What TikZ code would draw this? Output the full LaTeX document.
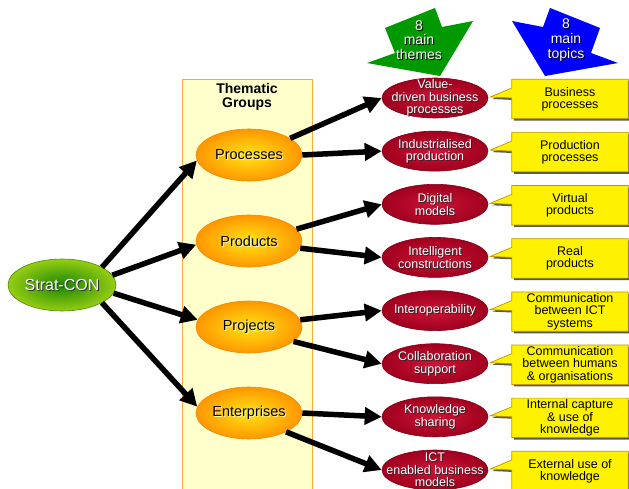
\documentclass[tikz,border=0pt]{standalone}
\usepackage{fontspec}
\setmainfont{Liberation Sans}
\usetikzlibrary{arrows.meta,calc,shapes.geometric}
\definecolor{panelfill}{RGB}{255,255,204}
\definecolor{paneldraw}{RGB}{250,170,60}
\definecolor{redin}{RGB}{205,20,55}
\definecolor{redout}{RGB}{160,0,30}
\definecolor{redline}{RGB}{130,0,25}
\definecolor{orin}{RGB}{255,228,20}
\definecolor{orout}{RGB}{255,150,0}
\definecolor{orline}{RGB}{235,140,0}
\definecolor{grin}{RGB}{25,135,0}
\definecolor{grout}{RGB}{150,205,20}
\definecolor{grline}{RGB}{70,140,0}
\definecolor{boxline}{RGB}{190,150,0}
\definecolor{arrgreen}{RGB}{0,153,0}
\definecolor{arrblue}{RGB}{0,0,255}
\newcommand\ellnode[6]{%
  \node[#1] (#2) at #3 {};
  \node[#4, text=#5] at ([shift={(1,1)}]#2.center) {#6};
  \node[#4] at (#2.center) {#6};
}
\newcommand\callout[4]{%
  \node[boxshape] (#1) at #2 {};
  \coordinate (#1-t) at ($(#3.east)+(2,-1)$);
  \coordinate (#1-a) at ($(#1.west)+(0,-11)$);
  \coordinate (#1-b) at ($(#1.west)+(0,-1)$);
  \fill[boxshadow] ([shift={(2,2)}]#1.south west) -- ([shift={(2,2)}]#1-b) -- ([shift={(2,2)}]#1-t) -- ([shift={(2,2)}]#1-a) -- ([shift={(2,2)}]#1.north west) -- ([shift={(2,2)}]#1.north east) -- ([shift={(2,2)}]#1.south east) -- cycle;
  \filldraw[boxfill] (#1.south west) -- (#1-b) -- (#1-t) -- (#1-a) -- (#1.north west) -- (#1.north east) -- (#1.south east) -- cycle;
  \node[boxtext] at (#1.center) {#4};
}
\begin{document}
\begin{tikzpicture}[x=1pt,y=-1pt,
  arr/.style={line width=5.5pt,-{Triangle[length=17pt,width=17pt]}},
  greenell/.style={ellipse,minimum width=108pt,minimum height=52pt,inner sep=0pt,shading=radial,inner color=grin,outer color=grout,draw=grline,line width=0.6pt},
  orell/.style={ellipse,minimum width=106pt,minimum height=52pt,inner sep=0pt,shading=radial,inner color=orin,outer color=orout,draw=orline,line width=0.6pt},
  redell/.style={ellipse,minimum width=106pt,minimum height=40pt,inner sep=0pt,shading=radial,inner color=redin,outer color=redout,draw=redline,line width=0.6pt},
  stxt/.style={inner sep=0pt,align=center,text=white,font=\fontsize{16}{17}\selectfont},
  otxt/.style={inner sep=0pt,align=center,text=black,font=\fontsize{14.5}{15}\selectfont},
  rtxt/.style={inner sep=0pt,align=center,text=white,font=\fontsize{12.5}{12.5}\selectfont},
  atxt/.style={inner sep=0pt,align=center,text=white,font=\fontsize{14}{14.7}\selectfont},
  boxshape/.style={rectangle,minimum width=116pt,minimum height=39pt,inner sep=0pt},
  boxfill/.style={fill=yellow,draw=boxline,line width=0.7pt,line join=miter},
  boxshadow/.style={fill=black!65},
  boxtext/.style={inner sep=0pt,align=center,font=\fontsize{12.5}{12.3}\selectfont},
]
\useasboundingbox (0,0) rectangle (629,489);
% panel
\node[draw=paneldraw,fill=panelfill,line width=1.2pt,minimum width=130pt,minimum height=414pt,inner sep=0pt,anchor=north west] (panel) at (182,79) {};
\node[inner sep=0pt,align=center,font=\bfseries\fontsize{14}{14}\selectfont] (title) at (247,97) {Thematic\\Groups};
% big arrows
\fill[arrgreen] (385,28) -- (435,8) -- (442,27) -- (473,21) -- (440,76) -- (367,63) -- (395,53) -- cycle;
\node[atxt,text=black] at (420,41) {8\\main\\themes};
\node[atxt] (themes) at (419,40) {8\\main\\themes};
\fill[arrblue] (600,28) -- (550,8) -- (543,27) -- (512,21) -- (545,76) -- (618,63) -- (591,53) -- cycle;
\node[atxt,text=black] at (567,41) {8\\main\\topics};
\node[atxt] (topics) at (566,40) {8\\main\\topics};
% ellipses
\ellnode{greenell}{strat}{(62,285)}{stxt}{black!80}{Strat-CON}
\ellnode{orell}{proc}{(249,155)}{otxt}{white!70!yellow}{Processes}
\ellnode{orell}{prod}{(249,241)}{otxt}{white!70!yellow}{Products}
\ellnode{orell}{proj}{(249,327)}{otxt}{white!70!yellow}{Projects}
\ellnode{orell}{ent}{(249,413)}{otxt}{white!70!yellow}{Enterprises}
\ellnode{redell}{r1}{(435,98)}{rtxt}{black!85}{Value-\\driven business\\processes}
\ellnode{redell}{r2}{(435,151.1)}{rtxt}{black!85}{Industrialised\\production}
\ellnode{redell}{r3}{(435,204.3)}{rtxt}{black!85}{Digital\\models}
\ellnode{redell}{r4}{(435,257.4)}{rtxt}{black!85}{Intelligent\\constructions}
\ellnode{redell}{r5}{(435,310.6)}{rtxt}{black!85}{Interoperability}
\ellnode{redell}{r6}{(435,363.7)}{rtxt}{black!85}{Collaboration\\support}
\ellnode{redell}{r7}{(435,416.8)}{rtxt}{black!85}{Knowledge\\sharing}
\ellnode{redell}{r8}{(435,470)}{rtxt}{black!85}{ICT\\enabled business\\models}
% callouts
\callout{b1}{(570,99)}{r1}{Business\\processes}
\callout{b2}{(570,152.1)}{r2}{Production\\processes}
\callout{b3}{(570,205.3)}{r3}{Virtual\\products}
\callout{b4}{(570,258.4)}{r4}{Real\\products}
\callout{b5}{(570,311.6)}{r5}{Communication\\between ICT\\systems}
\callout{b6}{(570,364.7)}{r6}{Communication\\between humans\\\& organisations}
\callout{b7}{(570,417.8)}{r7}{Internal capture\\\& use of\\knowledge}
\callout{b8}{(570,471)}{r8}{External use of\\knowledge}
% arrows
\draw[arr] (strat.24) -- (proc.186);
\draw[arr] (strat.11) -- (prod.184);
\draw[arr] (strat.351) -- (proj.172);
\draw[arr] (strat.336) -- (ent.173);
\draw[arr] (proc.22) -- (r1.west);
\draw[arr] (proc.0) -- (r2.west);
\draw[arr] (prod.14) -- (r3.west);
\draw[arr] (prod.352) -- (r4.west);
\draw[arr] (proj.8) -- (r5.west);
\draw[arr] (proj.342) -- (r6.west);
\draw[arr] (ent.0) -- (r7.west);
\draw[arr] (ent.333) -- (r8.west);
\end{tikzpicture}
\end{document}
